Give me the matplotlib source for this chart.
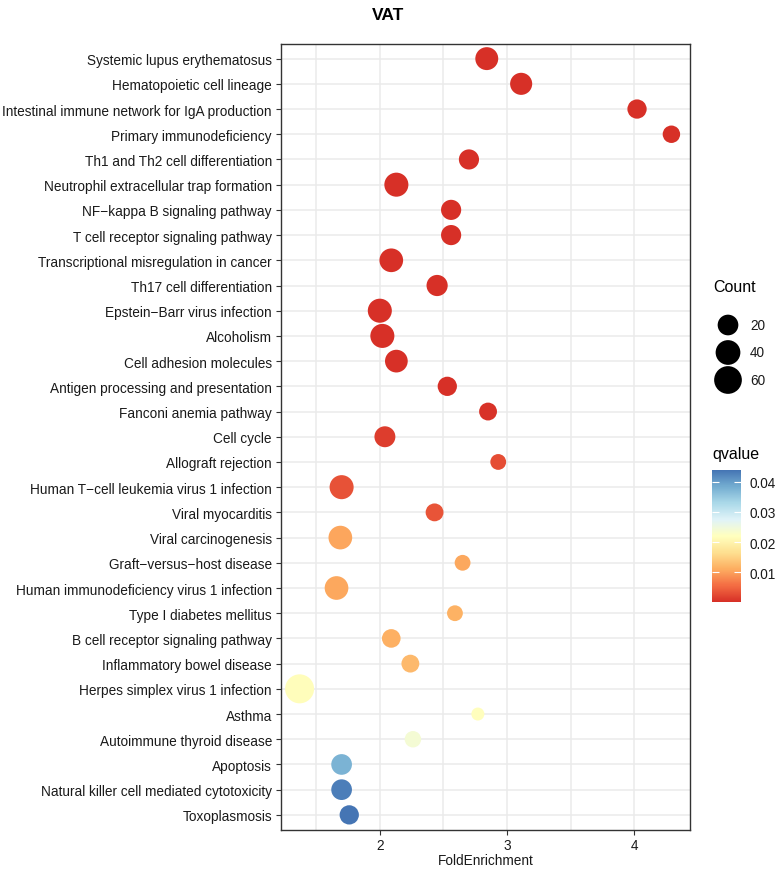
import matplotlib
matplotlib.use("Agg")
import matplotlib.pyplot as plt
import numpy as np
from matplotlib.colors import LinearSegmentedColormap, Normalize
import matplotlib.colorbar as mcolorbar

plt.rcParams['font.family'] = ['Liberation Sans', 'DejaVu Sans']

pathways = [
    "Systemic lupus erythematosus",
    "Hematopoietic cell lineage",
    "Intestinal immune network for IgA production",
    "Primary immunodeficiency",
    "Th1 and Th2 cell differentiation",
    "Neutrophil extracellular trap formation",
    "NF\u2212kappa B signaling pathway",
    "T cell receptor signaling pathway",
    "Transcriptional misregulation in cancer",
    "Th17 cell differentiation",
    "Epstein\u2212Barr virus infection",
    "Alcoholism",
    "Cell adhesion molecules",
    "Antigen processing and presentation",
    "Fanconi anemia pathway",
    "Cell cycle",
    "Allograft rejection",
    "Human T\u2212cell leukemia virus 1 infection",
    "Viral myocarditis",
    "Viral carcinogenesis",
    "Graft\u2212versus\u2212host disease",
    "Human immunodeficiency virus 1 infection",
    "Type I diabetes mellitus",
    "B cell receptor signaling pathway",
    "Inflammatory bowel disease",
    "Herpes simplex virus 1 infection",
    "Asthma",
    "Autoimmune thyroid disease",
    "Apoptosis",
    "Natural killer cell mediated cytotoxicity",
    "Toxoplasmosis",
]

fold_enrichment = [2.84, 3.11, 4.02, 4.29, 2.70, 2.13, 2.56, 2.56, 2.09, 2.45,
                   2.00, 2.02, 2.13, 2.53, 2.85, 2.04, 2.93, 1.70, 2.43, 1.69,
                   2.65, 1.66, 2.59, 2.09, 2.24, 1.37, 2.77, 2.26, 1.70, 1.70, 1.76]

counts = [30, 26, 15, 10, 18, 36, 18, 18, 34, 22,
          36, 36, 29, 15, 11, 21, 7, 36, 11, 34,
          7, 34, 7, 13, 11, 70, 5, 8, 20, 20, 15]

qvalues = [0.0001, 0.0001, 0.0001, 0.0001, 0.0001, 0.0001, 0.0001, 0.0001, 0.0001, 0.0001,
           0.0001, 0.0001, 0.0001, 0.0002, 0.0004, 0.0014, 0.0027, 0.0033, 0.0035, 0.0104,
           0.0106, 0.0107, 0.0115, 0.0113, 0.0124, 0.0215, 0.0217, 0.0240, 0.0377, 0.0430, 0.0439]

legend_counts = [20, 40, 60]
cbar_ticks = [0.01, 0.02, 0.03, 0.04]

# size mapping (ggplot-like area scale)
cmin, cmax = 5.0, 70.0
dmin, dmax = 13.0, 29.0  # diameter in px


def diam_px(c):
    c = np.asarray(c, dtype=float)
    return dmin + (dmax - dmin) * np.sqrt(np.clip((c - cmin) / (cmax - cmin), 0, 1))


def area_pt2(c):
    return (diam_px(c) * 0.72) ** 2


cmap = LinearSegmentedColormap.from_list(
    "rdylbu9", ["#D73027", "#F46D43", "#FDAE61", "#FEE090", "#FFFFBF",
                "#E0F3F8", "#ABD9E9", "#74ADD1", "#4575B4"])
norm = Normalize(vmin=min(qvalues), vmax=max(qvalues))

W, H = 777, 870
FS = 9.8
TXT = '#1a1a1a'
fig = plt.figure(figsize=(W / 100, H / 100), dpi=100)
ax = fig.add_axes([281 / W, 1 - 831 / H, (690 - 281) / W, (831 - 44.5) / H])

n = len(pathways)
ypos = np.arange(n)[::-1]
ax.scatter(fold_enrichment, ypos, s=area_pt2(counts), c=qvalues, cmap=cmap, norm=norm,
           edgecolors='none', zorder=3)

ax.set_ylim(-0.6, n - 1 + 0.6)
ax.set_yticks(ypos)
ax.set_yticklabels(pathways, fontsize=FS, color=TXT)
ax.set_xlim(1.224, 4.436)
ax.set_xticks([2, 3, 4])
ax.set_xticklabels(["2", "3", "4"], fontsize=FS, color=TXT)
ax.set_xticks([1.5, 2.5, 3.5], minor=True)
ax.grid(True, which='major', color='#EBEBEB', linewidth=1.1, zorder=0)
ax.grid(True, which='minor', axis='x', color='#EBEBEB', linewidth=1.1, zorder=0)
ax.set_axisbelow(True)
ax.tick_params(axis='y', which='major', length=3.5, width=0.8, color='#333333', pad=3)
ax.tick_params(axis='x', which='major', length=3.5, width=0.8, color='#333333', pad=2)
ax.tick_params(axis='x', which='minor', length=0)
for sp in ax.spines.values():
    sp.set_color('#333333')
    sp.set_linewidth(1.0)
ax.set_xlabel("FoldEnrichment", fontsize=FS, color=TXT, labelpad=1)

fig.text(388 / W, 1 - 15 / H, "VAT", fontsize=12.5, fontweight='bold', ha='center', va='center')

# Size legend (drawn in its own small axes)
lax = fig.add_axes([700 / W, 1 - 395 / H, 77 / W, 85 / H])
lax.set_xlim(700, 777)
lax.set_ylim(395, 310)
lax.axis('off')
leg_y = 326 + 27.5 * np.arange(len(legend_counts))
lax.scatter(np.full(len(legend_counts), 728.0), leg_y, s=area_pt2(legend_counts),
            color='black', edgecolors='none', clip_on=False)
for yy, c in zip(leg_y, legend_counts):
    lax.text(750, yy, str(c), fontsize=FS, color=TXT, ha='left', va='center')
fig.text(713 / W, 1 - 288 / H, "Count", fontsize=11.5, ha='left', va='center')

# Colorbar
fig.text(712 / W, 1 - 455 / H, "qvalue", fontsize=11.5, ha='left', va='center')
cax = fig.add_axes([712 / W, 1 - 603 / H, 29 / W, 132 / H])
cb = mcolorbar.ColorbarBase(cax, cmap=cmap, norm=norm, orientation='vertical')
cb.outline.set_visible(False)
cb.set_ticks(cbar_ticks)
cb.set_ticklabels([f"{t:.2f}" for t in cbar_ticks])
cax.yaxis.set_ticks_position('both')
cax.tick_params(axis='y', direction='in', color='white', length=5, width=0.8,
                labelsize=FS, labelcolor=TXT, left=True, right=True,
                labelleft=False, labelright=True, pad=6)

fig.savefig("out.png", dpi=100)
